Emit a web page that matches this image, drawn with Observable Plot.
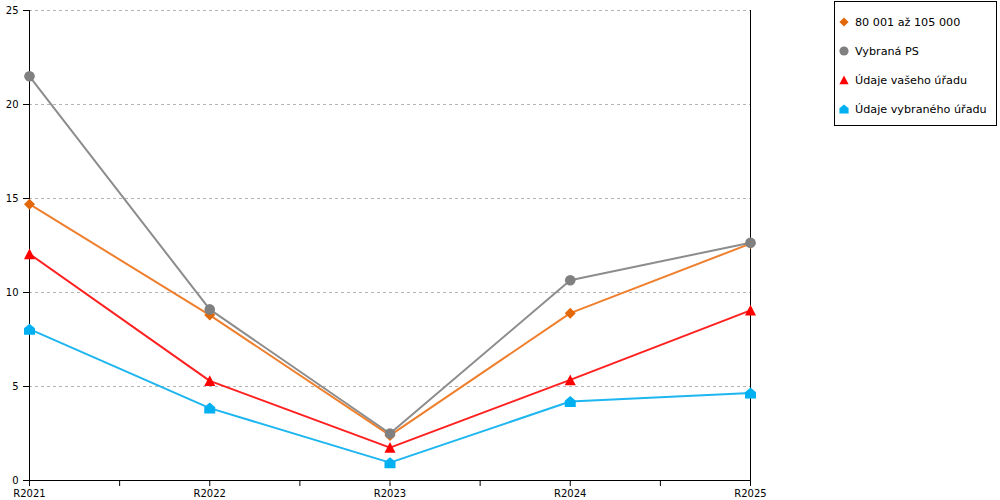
<!DOCTYPE html>
<html><head><meta charset="utf-8">
<script src="https://cdn.jsdelivr.net/npm/d3@7"></script>
<script src="https://cdn.jsdelivr.net/npm/@observablehq/plot@0.6"></script>
<style>
body{margin:0;background:#fff;font-family:"DejaVu Sans",Verdana,sans-serif;}
#wrap{position:relative;width:1000px;height:500px;overflow:hidden;}
#legend{position:absolute;left:834px;top:1px;width:161px;height:123px;border:1px solid #000;background:#fff;font-size:11.2px;color:#000;}
.item{position:absolute;left:3px;height:16px;display:flex;align-items:center;white-space:nowrap;}
.item svg{margin-right:5px;}
</style></head><body>
<div id="wrap"><div id="chart"></div><div id="legend"></div></div>
<script>
const categories = ["R2021","R2022","R2023","R2024","R2025"];
const seriesNames = ["80 001 až 105 000","Vybraná PS","Údaje vašeho úřadu","Údaje vybraného úřadu"];
const valuesGroup    = [14.7, 8.8, 2.4, 8.9, 12.6];
const valuesPS       = [21.5, 9.1, 2.5, 10.65, 12.65];
const valuesYour     = [12.05, 5.3, 1.75, 5.35, 9.05];
const valuesSelected = [8.05, 3.85, 0.95, 4.2, 4.65];
const yTicks = [0, 5, 10, 15, 20, 25];

const lineColors   = ["#EF7F2C", "#8C8C8C", "#FF2020", "#1EB6F0"];
const markerColors = ["#E2680A", "#808080", "#FF0000", "#00B0F0"];

const R = s => Math.sqrt(s / Math.PI);
const diamond = {draw(c, s){const r=R(s); c.moveTo(0,-r); c.lineTo(r,0); c.lineTo(0,r); c.lineTo(-r,0); c.closePath();}};
const circle  = {draw(c, s){const r=R(s); c.moveTo(r,0); c.arc(0,0,r,0,2*Math.PI); c.closePath();}};
const triangle= {draw(c, s){const r=R(s); c.moveTo(0,-r); c.lineTo(r,r*0.95); c.lineTo(-r,r*0.95); c.closePath();}};
const house   = {draw(c, s){const r=R(s); c.moveTo(0,-r); c.lineTo(r,-r*0.15); c.lineTo(r,r); c.lineTo(-r,r); c.lineTo(-r,-r*0.15); c.closePath();}};
const symbols = [diamond, circle, triangle, house];
const radii = [5.5, 5.3, 5.5, 5.5];

const allValues = [valuesGroup, valuesPS, valuesYour, valuesSelected];
const series = allValues.map((vals, s) => vals.map((v, i) => ({i, v, s})));
const idx = categories.map((c, i) => i);
const mids = idx.slice(0, -1).map(i => i + 0.5);
const last = categories.length - 1;

const chart = Plot.plot({
  width: 1000, height: 500,
  marginLeft: 29, marginRight: 250, marginTop: 10, marginBottom: 20,
  style: {fontFamily: "'DejaVu Sans', Verdana, sans-serif", fontSize: "10px", color: "#000", background: "#fff", overflow: "visible"},
  x: {type: "linear", domain: [0, last], axis: null},
  y: {domain: [0, 25], axis: null},
  marks: [
    Plot.ruleY(yTicks.filter(t => t > 0), {x1: 0, x2: last, stroke: "#b4b4b4", strokeDasharray: "3,3", strokeWidth: 1}),
    Plot.axisY({ticks: yTicks, tickSize: 6, tickPadding: 5, tickFormat: d => String(d), label: null, stroke: "#000", strokeOpacity: 1, fill: "#000"}),
    Plot.axisX({ticks: idx, tickSize: 6, tickPadding: 3, tickFormat: i => categories[i], label: null, stroke: "#000", strokeOpacity: 1, fill: "#000"}),
    Plot.axisX({ticks: mids, tickSize: 6, text: null, label: null, stroke: "#000", strokeOpacity: 1}),
    Plot.ruleX([0, last], {stroke: "#000", strokeWidth: 1}),
    Plot.ruleY([0], {stroke: "#000", strokeWidth: 1}),
    ...series.map((d, s) => Plot.line(d, {x: "i", y: "v", stroke: lineColors[s], strokeWidth: 2})),
    ...series.map((d, s) => Plot.dot(d, {x: "i", y: "v", symbol: symbols[s], r: radii[s], fill: markerColors[s], stroke: "none"}))
  ]
});
document.getElementById("chart").appendChild(chart);

const legend = d3.select("#legend");
const rowsY = [12, 41, 70, 99];
seriesNames.forEach((name, s) => {
  const it = legend.append("div").attr("class", "item").style("top", rowsY[s] + "px");
  const svg = it.append("svg").attr("width", 12).attr("height", 14);
  const p = d3.path();
  const sz = Math.PI * 4.6 * 4.6;
  symbols[s].draw(p, sz);
  svg.append("path").attr("d", p.toString()).attr("transform", "translate(6,7)").attr("fill", markerColors[s]);
  it.append("span").text(name);
});
</script>
</body></html>
